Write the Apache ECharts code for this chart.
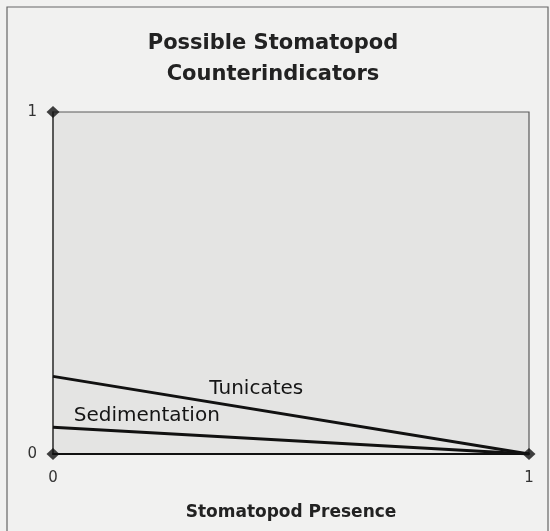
<!DOCTYPE html>
<html>
<head>
<meta charset="utf-8">
<script src="https://cdn.jsdelivr.net/npm/echarts@6/dist/echarts.min.js"></script>
<style>
  html, body { margin: 0; padding: 0; background: #f1f1f0; }
  #chart { width: 550px; height: 531px; }
</style>
</head>
<body>
<div id="chart"></div>
<script>
// values
const xTicks = [0, 1];
const yTicks = [0, 1];
const tunicates = [[0, 0.227], [1, 0]];
const sedimentation = [[0, 0.078], [1, 0]];
const cornerMarks = [[0, 1], [0, 0], [1, 0]];

const chart = echarts.init(document.getElementById('chart'));

// text placed beside a line, anchored at a data coordinate
const lineLabel = (text, coord) => ({
  symbol: 'circle',
  symbolSize: 1,
  itemStyle: { color: 'rgba(0,0,0,0)' },
  label: {
    show: true,
    position: 'inside',
    formatter: text,
    color: '#151515',
    fontFamily: 'DejaVu Sans',
    fontSize: 20,
  },
  data: [{ coord: coord }],
});

chart.setOption({
  backgroundColor: '#f1f1f0',
  animation: false,
  title: {
    text: 'Possible Stomatopod\nCounterindicators',
    left: 268,
    top: 23,
    textAlign: 'center',
    textStyle: {
      fontFamily: 'DejaVu Sans',
      fontWeight: 'bold',
      fontSize: 21,
      lineHeight: 31,
      color: '#222',
    },
  },
  graphic: [
    {
      type: 'rect',
      shape: { x: 7, y: 7, width: 541, height: 530 },
      style: { fill: 'none', stroke: '#666', lineWidth: 1.2 },
      silent: true,
    },
  ],
  grid: {
    left: 53,
    right: 21,
    top: 112,
    bottom: 77,
    show: true,
    backgroundColor: '#e4e4e3',
    borderColor: '#5a5a5a',
    borderWidth: 1.2,
  },
  xAxis: {
    type: 'value',
    min: xTicks[0],
    max: xTicks[xTicks.length - 1],
    interval: 1,
    name: 'Stomatopod Presence',
    nameLocation: 'middle',
    nameGap: 50,
    nameTextStyle: {
      fontFamily: 'DejaVu Sans',
      fontWeight: 'bold',
      fontSize: 17,
      color: '#222',
    },
    axisLine: { lineStyle: { color: '#111', width: 2 } },
    axisTick: { show: false },
    splitLine: { show: false },
    axisLabel: {
      margin: 17,
      fontFamily: 'DejaVu Sans',
      fontSize: 15,
      color: '#333',
    },
  },
  yAxis: {
    type: 'value',
    min: yTicks[0],
    max: yTicks[yTicks.length - 1],
    interval: 1,
    axisLine: { show: true, lineStyle: { color: '#444', width: 1.5 } },
    axisTick: { show: false },
    splitLine: { show: false },
    axisLabel: {
      margin: 16,
      fontFamily: 'DejaVu Sans',
      fontSize: 15,
      color: '#333',
    },
  },
  series: [
    {
      name: 'Tunicates',
      type: 'line',
      data: tunicates,
      symbol: 'none',
      lineStyle: { color: '#111', width: 3 },
      markPoint: lineLabel('Tunicates', [0.427, 0.19]),
    },
    {
      name: 'Sedimentation',
      type: 'line',
      data: sedimentation,
      symbol: 'none',
      lineStyle: { color: '#111', width: 3 },
      markPoint: lineLabel('Sedimentation', [0.197, 0.113]),
    },
    {
      name: 'corners',
      type: 'scatter',
      data: cornerMarks,
      symbol: 'diamond',
      symbolSize: [13, 12],
      itemStyle: { color: '#111' },
      z: 5,
    },
  ],
});
</script>
</body>
</html>
